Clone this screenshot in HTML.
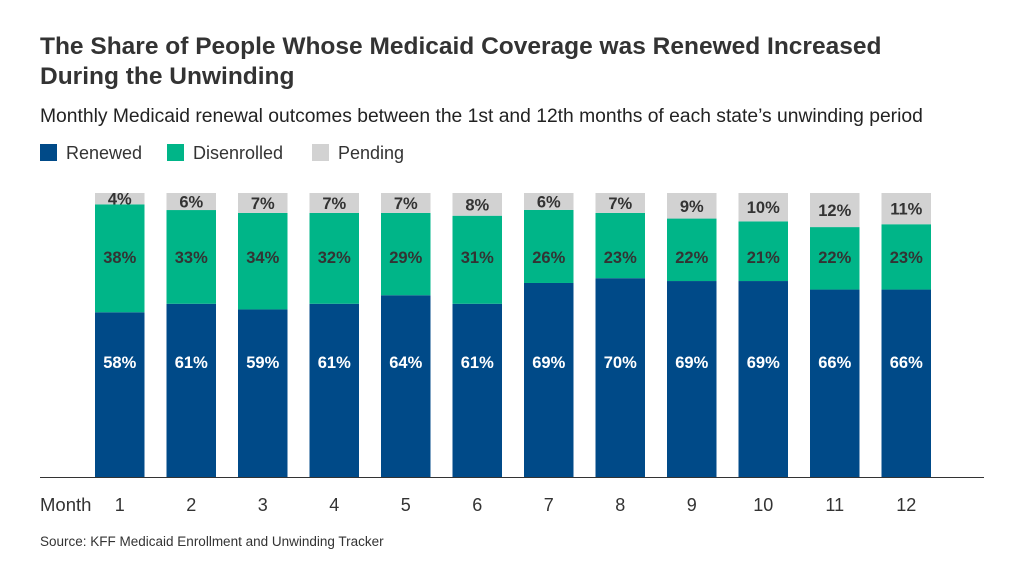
<!DOCTYPE html>
<html><head><meta charset="utf-8"><style>
body{margin:0;background:#fff;font-family:"Liberation Sans",sans-serif;}
</style></head><body>
<svg id="s" width="1024" height="576" xmlns="http://www.w3.org/2000/svg" font-family="Liberation Sans, sans-serif">
<text x="40" y="54" font-size="24.5" font-weight="bold" fill="#333">The Share of People Whose Medicaid Coverage was Renewed Increased</text>
<text x="40" y="84" font-size="24.5" font-weight="bold" fill="#333">During the Unwinding</text>
<text x="40" y="122" font-size="19.3" fill="#222">Monthly Medicaid renewal outcomes between the 1st and 12th months of each state’s unwinding period</text>
<rect x="40" y="144" width="17" height="17" fill="#004a88"/><text x="66" y="159" font-size="18" fill="#333">Renewed</text>
<rect x="167" y="144" width="17" height="17" fill="#00b588"/><text x="193" y="159" font-size="18" fill="#333">Disenrolled</text>
<rect x="312" y="144" width="17" height="17" fill="#d2d2d2"/><text x="338" y="159" font-size="18" fill="#333">Pending</text>
<line x1="40" y1="477.5" x2="984" y2="477.5" stroke="#333" stroke-width="1"/>
<text x="40" y="511" font-size="18.5" fill="#333">Month</text>
<text x="40" y="546" font-size="13.5" fill="#333">Source: KFF Medicaid Enrollment and Unwinding Tracker</text>
<g id="g"></g>
</svg>
<script>
(function(){
var NS="http://www.w3.org/2000/svg";
var G=document.getElementById('g');
function el(tag,attrs,txt){var e=document.createElementNS(NS,tag);for(var k in attrs)e.setAttribute(k,attrs[k]);if(txt!==undefined)e.textContent=txt;G.appendChild(e);}
var d=[[58,38,4],[61,33,6],[59,34,7],[61,32,7],[64,29,7],[61,31,8],[69,26,6],[70,23,7],[69,22,9],[69,21,10],[66,22,12],[66,23,11]];
var T=193,B=477,H=B-T;
d.forEach(function(v,i){
 var x=95+i*71.5,w=49.5,s=v[0]+v[1]+v[2];
 var r=v[0]/s*H,g=v[1]/s*H,p=v[2]/s*H;
 var yr=B-r,yg=yr-g,yp=yg-p,cx=x+w/2;
 el('rect',{x:x,y:yr,width:w,height:r,fill:'#004a88'});
 el('rect',{x:x,y:yg,width:w,height:g,fill:'#00b588'});
 el('rect',{x:x,y:yp,width:w,height:p,fill:'#d2d2d2'});
 el('text',{x:cx,y:368,'font-size':16.5,'font-weight':'bold',fill:'#fff','text-anchor':'middle'},v[0]+'%');
 el('text',{x:cx,y:263,'font-size':16.5,'font-weight':'bold',fill:'#333','text-anchor':'middle'},v[1]+'%');
 el('text',{x:cx,y:Math.max(yp+p/2+6,199),'font-size':16.5,'font-weight':'bold',fill:'#333','text-anchor':'middle'},v[2]+'%');
 el('text',{x:cx,y:511,'font-size':18,fill:'#333','text-anchor':'middle'},''+(i+1));
});
})();
</script>
</body></html>
